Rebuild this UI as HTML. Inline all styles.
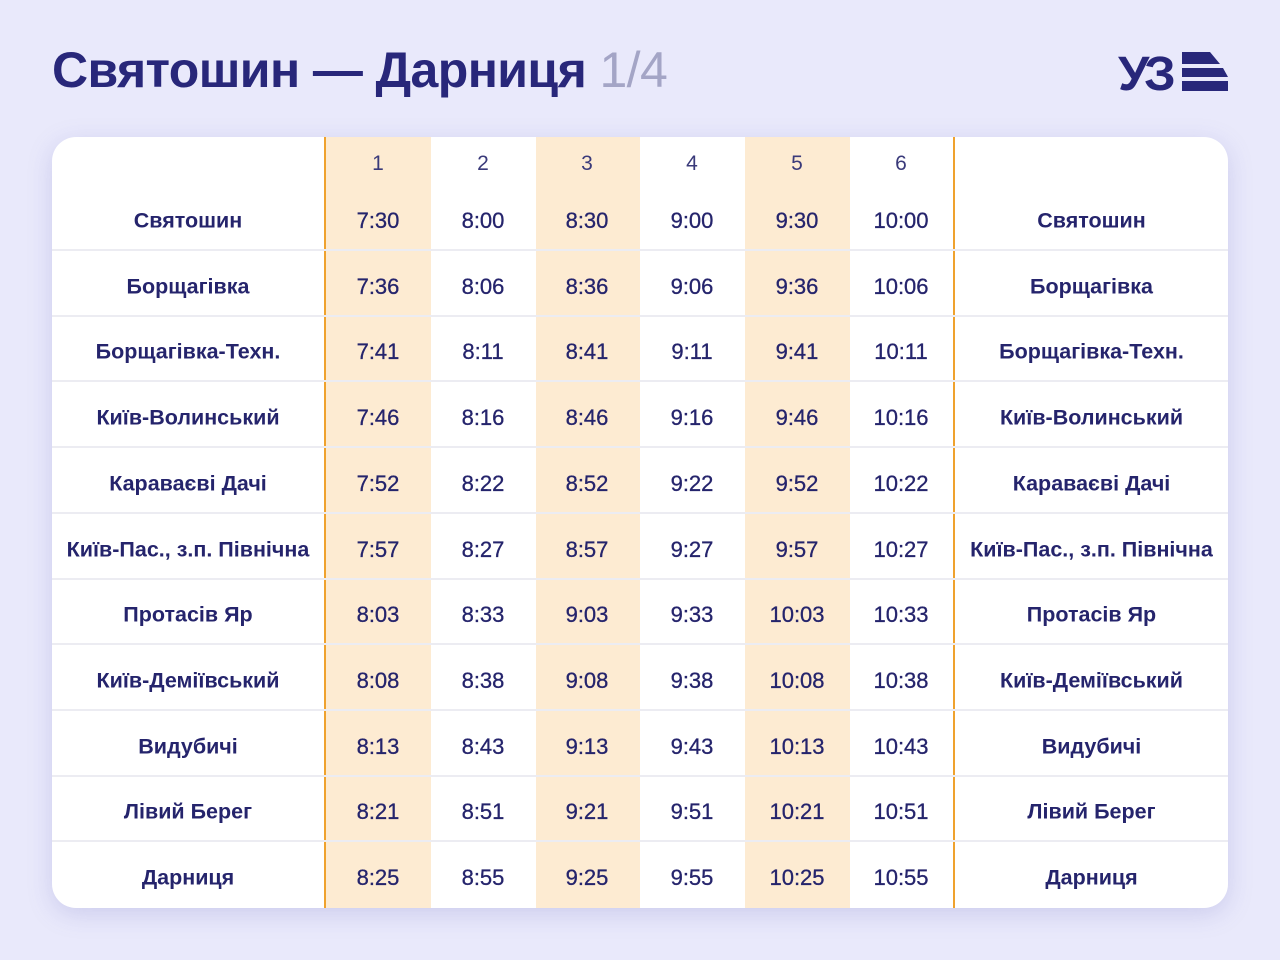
<!DOCTYPE html>
<html><head><meta charset="utf-8"><style>
body{margin:0;width:1280px;height:960px;background:#e9e9fb;font-family:"Liberation Sans",sans-serif;position:relative;overflow:hidden;color:#25246c}
.title{position:absolute;left:52px;top:41px;font-size:50px;font-weight:bold;color:#28277a;letter-spacing:-0.6px;white-space:nowrap}
.title span{font-weight:normal;color:#a4a5c6}
.card{position:absolute;left:52px;top:137px;width:1176px;height:771px;background:#fff;border-radius:24px;box-shadow:0 6px 24px rgba(120,120,200,0.25);overflow:hidden}
.shade{position:absolute;top:0;height:771px;background:#fdebd2}
.vl{position:absolute;top:0;width:2px;height:771px;background:#efa22e}
.hl{position:absolute;left:0;width:1176px;height:2px;background:#ececf2}
.c{position:absolute;text-align:center;font-size:22px;white-space:nowrap;transform:translateY(-50%);-webkit-text-stroke:0.3px #25246c}
.st{font-weight:bold;font-size:21.5px;-webkit-text-stroke:0}
.hd{color:#3a3a7a;font-size:21px;-webkit-text-stroke:0}
</style></head><body>
<div class="title">Святошин — Дарниця <span>1/4</span></div>
<svg style="position:absolute;left:1118px;top:50px" width="112" height="44" viewBox="0 0 112 44">
<text x="0" y="40" font-family="Liberation Sans" font-weight="bold" font-size="48" fill="#28277a" letter-spacing="-5" transform="scale(1.05,1)">УЗ</text>
<path d="M64 2 H92 L102 14 H64Z M64 18 H105 L110 27 H64Z M64 31 H110 V41 H64Z" fill="#28277a"/>
</svg>
<div class="card">
<div class="shade" style="left:274px;width:105px"></div>
<div class="shade" style="left:484px;width:104px"></div>
<div class="shade" style="left:693px;width:105px"></div>
<div class="vl" style="left:272px"></div>
<div class="vl" style="left:901px"></div>
<div id="rows"></div>
</div>
<script>
var st=["Святошин","Борщагівка","Борщагівка-Техн.","Київ-Волинський","Караваєві Дачі","Київ-Пас., з.п. Північна","Протасів Яр","Київ-Деміївський","Видубичі","Лівий Берег","Дарниця"];
var t=[["7:30","8:00","8:30","9:00","9:30","10:00"],["7:36","8:06","8:36","9:06","9:36","10:06"],["7:41","8:11","8:41","9:11","9:41","10:11"],["7:46","8:16","8:46","9:16","9:46","10:16"],["7:52","8:22","8:52","9:22","9:52","10:22"],["7:57","8:27","8:57","9:27","9:57","10:27"],["8:03","8:33","9:03","9:33","10:03","10:33"],["8:08","8:38","9:08","9:38","10:08","10:38"],["8:13","8:43","9:13","9:43","10:13","10:43"],["8:21","8:51","9:21","9:51","10:21","10:51"],["8:25","8:55","9:25","9:55","10:25","10:55"]];
var cx=[326,431,535,640,745,849],h="";
for(var j=0;j<6;j++)h+='<div class="c hd" style="left:'+(cx[j]-50)+'px;width:100px;top:27px">'+(j+1)+'</div>';
for(var i=0;i<11;i++){var y=84+i*65.7;
h+='<div class="c st" style="left:0;width:272px;top:'+y+'px">'+st[i]+'</div>';
h+='<div class="c st" style="left:903px;width:273px;top:'+y+'px">'+st[i]+'</div>';
for(var j=0;j<6;j++)h+='<div class="c" style="left:'+(cx[j]-50)+'px;width:100px;top:'+y+'px">'+t[i][j]+'</div>';
if(i<10)h+='<div class="hl" style="top:'+(112+i*65.7)+'px"></div>';}
document.getElementById('rows').innerHTML=h;
</script>
</body></html>
